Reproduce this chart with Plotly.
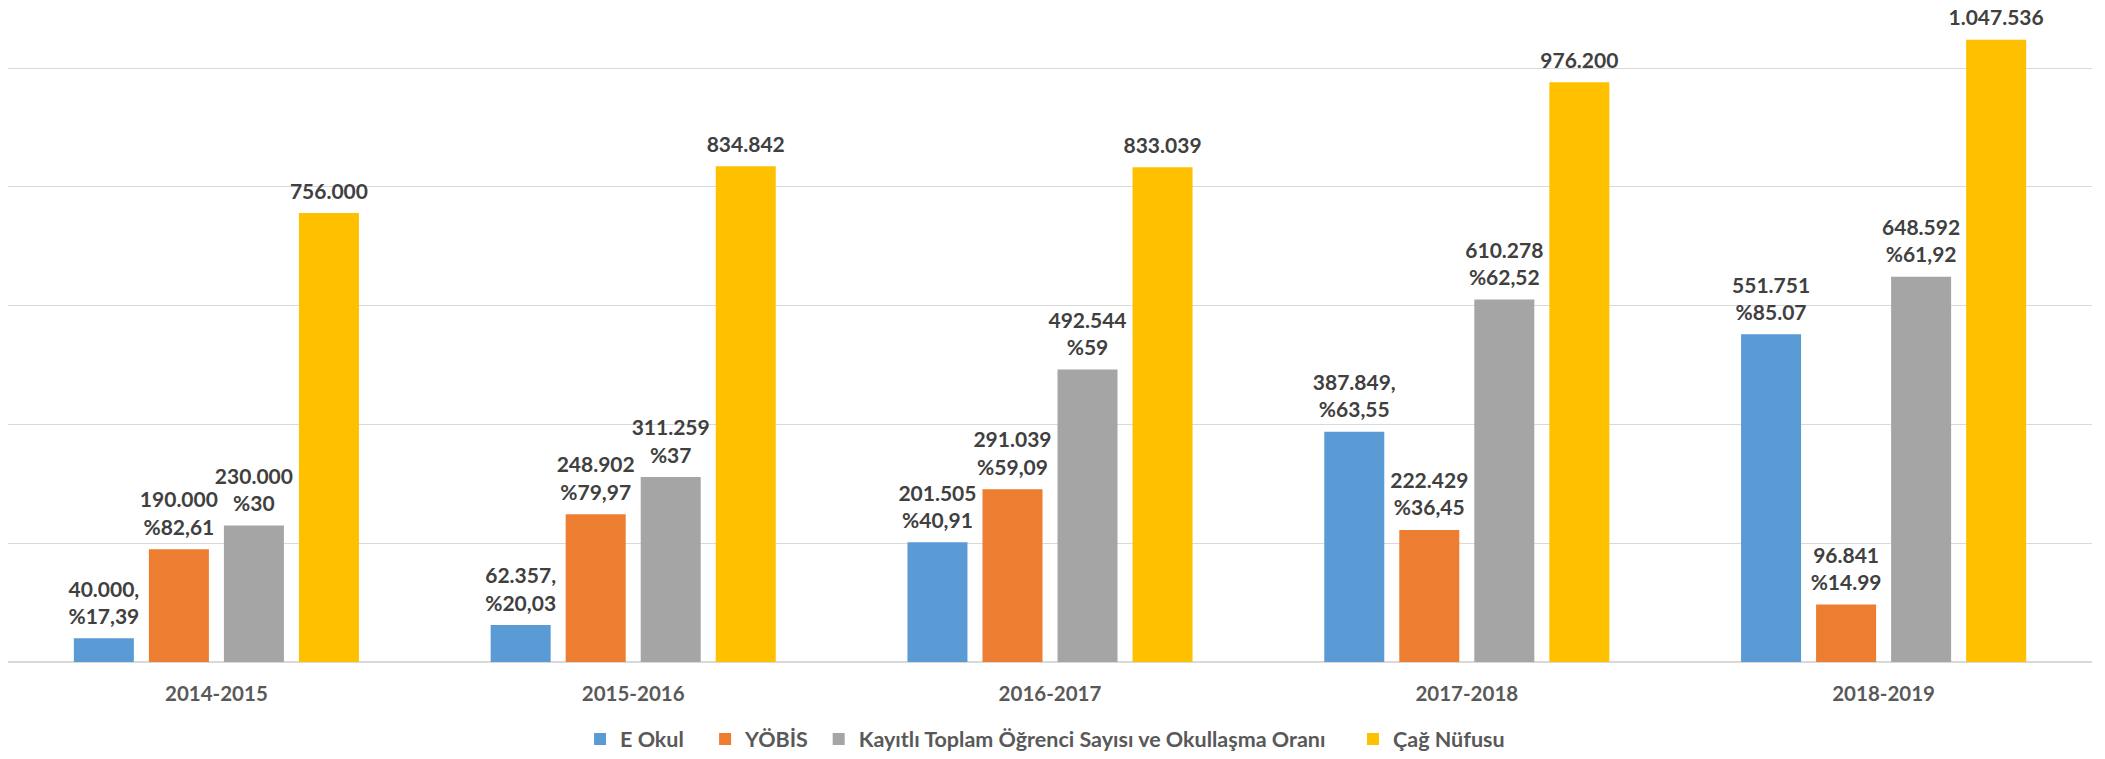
import plotly.graph_objects as go

categories = ["2014-2015", "2015-2016", "2016-2017", "2017-2018", "2018-2019"]

series_names = ["E Okul", "YÖBİS", "Kayıtlı Toplam Öğrenci Sayısı ve Okullaşma Oranı", "Çağ Nüfusu"]

e_okul = [40000, 62357, 201505, 387849, 551751]
yobis = [190000, 248902, 291039, 222429, 96841]
kayitli = [230000, 311259, 492544, 610278, 648592]
cag = [756000, 834842, 833039, 976200, 1047536]

e_okul_labels = ["40.000,<br>%17,39", "62.357,<br>%20,03", "201.505<br>%40,91", "387.849,<br>%63,55", "551.751<br>%85.07"]
yobis_labels = ["190.000<br>%82,61", "248.902<br>%79,97", "291.039<br>%59,09", "222.429<br>%36,45", "96.841<br>%14.99"]
kayitli_labels = ["230.000<br>%30", "311.259<br>%37", "492.544<br>%59", "610.278<br>%62,52", "648.592<br>%61,92"]
cag_labels = ["756.000", "834.842", "833.039", "976.200", "1.047.536"]

colors = ["#5B9BD5", "#ED7D31", "#A5A5A5", "#FFC000"]

FONT = "Lato, 'Open Sans', sans-serif"

# legend anchor positions (paper fraction) for each series
legend_x = [0.2745, 0.3345, 0.3890, 0.6454]
legend_ids = ["legend", "legend2", "legend3", "legend4"]

fig = go.Figure()
for i, (name, vals, labels, col) in enumerate(zip(series_names, [e_okul, yobis, kayitli, cag],
                                   [e_okul_labels, yobis_labels, kayitli_labels, cag_labels], colors)):
    fig.add_trace(go.Bar(
        name=name, x=categories, y=vals, offsetgroup=str(i),
        marker=dict(color=col, line=dict(width=0)),
        legend=legend_ids[i],
        hoverinfo="x+y+name",
    ))
    fig.add_trace(go.Scatter(
        x=categories, y=vals, offsetgroup=str(i), mode="markers+text",
        text=labels, textposition="top center", cliponaxis=False,
        marker=dict(size=13, opacity=0),
        textfont=dict(family=FONT, size=21, color="#404040", weight="bold"),
        showlegend=False, hoverinfo="skip",
    ))

legend_common = dict(orientation="h", y=-0.118, yanchor="middle", xanchor="left",
                     font=dict(family=FONT, size=21.5, color="#595959", weight="bold"),
                     bgcolor="rgba(0,0,0,0)", borderwidth=0)
layout_legends = {}
for lid, lx in zip(legend_ids, legend_x):
    layout_legends[lid] = dict(legend_common, x=lx)

fig.update_layout(
    width=2105, height=759,
    margin=dict(l=8, r=13, t=10, b=97, autoexpand=False),
    paper_bgcolor="white", plot_bgcolor="white",
    barmode="group", bargap=0.28, bargroupgap=0.2,
    scattermode="group", scattergap=0.28,
    font=dict(family=FONT, color="#595959"),
    showlegend=True,
    **layout_legends,
)
fig.update_xaxes(showline=False, ticks="", tickfont=dict(family=FONT, size=20.5, color="#595959", weight="bold"),
                 showgrid=False, ticklabelstandoff=17)
fig.update_yaxes(range=[0, 1097700], showticklabels=False, showgrid=True, gridcolor="#D9D9D9",
                 gridwidth=1.3, dtick=200000, tick0=0, zeroline=True, zerolinecolor="#D9D9D9",
                 zerolinewidth=1.5, showline=False, ticks="")

# remove the default page margin so the figure fills the window exactly
fig.write_html("out.html", config={"displayModeBar": False},
               post_script="document.body.style.margin='0';")
